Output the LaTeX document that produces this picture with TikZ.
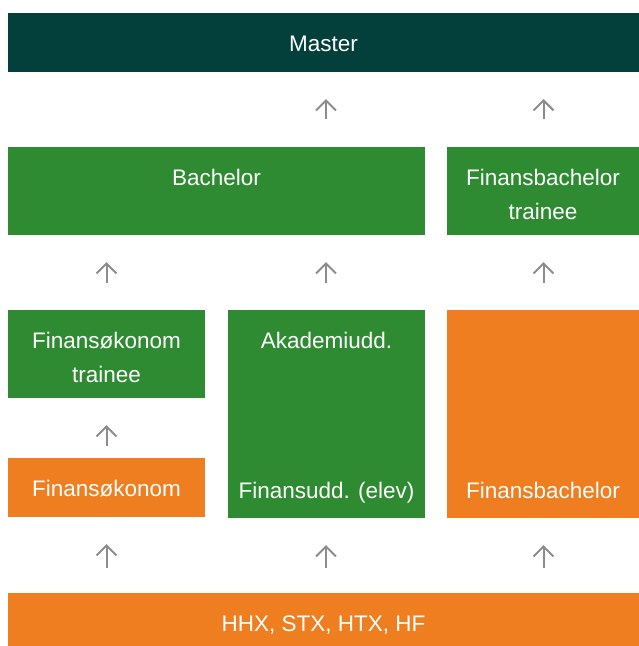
\documentclass[tikz,border=0pt]{standalone}
\usepackage{fontspec}
\setmainfont{Liberation Sans}
\usetikzlibrary{arrows.meta}
\definecolor{mastergreen}{RGB}{3,64,60}
\definecolor{boxgreen}{RGB}{46,139,49}
\definecolor{boxorange}{RGB}{238,126,31}
\definecolor{arrowgray}{RGB}{140,140,140}

\begin{document}
\begin{tikzpicture}[x=1pt,y=-1pt,
	box/.style={inner sep=0,outer sep=0},
	txt/.style={text=white,inner sep=0,outer sep=0,align=center,font=\fontsize{22.5}{33.5}\selectfont},
	uparrow/.style={draw=arrowgray,line width=2pt,-{Straight Barb[length=10pt,width=20pt]},shorten >=27pt}]
	\useasboundingbox (0,0) rectangle (639,646);
	% columns
	\coordinate (c1) at (106.5,0);
	\coordinate (c2) at (326,0);
	\coordinate (c3) at (543.5,0);
	% boxes
	\node[box,fill=mastergreen,minimum width=631,minimum height=59] (master) at (323.5,42.5) {};
	\node[box,fill=boxgreen,minimum width=417,minimum height=88] (bach) at (216.5,191) {};
	\node[box,fill=boxgreen,minimum width=192,minimum height=88] (fbt) at (543,191) {};
	\node[box,fill=boxgreen,minimum width=197,minimum height=88] (fot) at (106.5,354) {};
	\node[box,fill=boxgreen,minimum width=197,minimum height=208] (akad) at (326.5,414) {};
	\node[box,fill=boxorange,minimum width=192,minimum height=208] (fbo) at (543,414) {};
	\node[box,fill=boxorange,minimum width=197,minimum height=59] (fo) at (106.5,487.5) {};
	\node[box,fill=boxorange,minimum width=631,minimum height=53] (hhx) at (323.5,619.5) {};
	% texts
	\node[txt,anchor=north] (mastertxt) at ([yshift=-22.6pt]master.north) {Master};
	\node[txt,anchor=north] (bachtxt) at ([yshift=-22.6pt]bach.north) {Bachelor};
	\node[txt,anchor=north] (fbttxt) at ([yshift=-22.6pt]fbt.north) {Finansbachelor\\trainee};
	\node[txt,anchor=north] (fottxt) at ([yshift=-22.6pt]fot.north) {Finansøkonom\\trainee};
	\node[txt,anchor=north] (akadtxt) at ([yshift=-22.6pt]akad.north) {Akademiudd.};
	\node[txt,anchor=base] (elevtxt) at ([yshift=20pt]akad.south) {Finansudd. (elev)};
	\node[txt,anchor=base] (fbotxt) at ([yshift=20pt]fbo.south) {Finansbachelor};
	\node[txt,anchor=north] (fotxt) at ([yshift=-22.6pt]fo.north) {Finansøkonom};
	\node[txt,anchor=north] (hhxtxt) at ([yshift=-22.6pt]hhx.north) {HHX, STX, HTX, HF};
	% arrows
	\draw[uparrow,shorten <=28pt] (c2 |- bach.north) -- (c2 |- master.south);
	\draw[uparrow,shorten <=28pt] (c3 |- fbt.north) -- (c3 |- master.south);
	\draw[uparrow,shorten <=27pt] (c1 |- fot.north) -- (c1 |- bach.south);
	\draw[uparrow,shorten <=27pt] (c2 |- akad.north) -- (c2 |- bach.south);
	\draw[uparrow,shorten <=27pt] (c3 |- fbo.north) -- (c3 |- fbt.south);
	\draw[uparrow,shorten <=12pt] (c1 |- fo.north) -- (c1 |- fot.south);
	\draw[uparrow,shorten <=25pt] (c1 |- hhx.north) -- (c1 |- fo.south);
	\draw[uparrow,shorten <=25pt] (c2 |- hhx.north) -- (c2 |- akad.south);
	\draw[uparrow,shorten <=25pt] (c3 |- hhx.north) -- (c3 |- fbo.south);
\end{tikzpicture}
\end{document}
